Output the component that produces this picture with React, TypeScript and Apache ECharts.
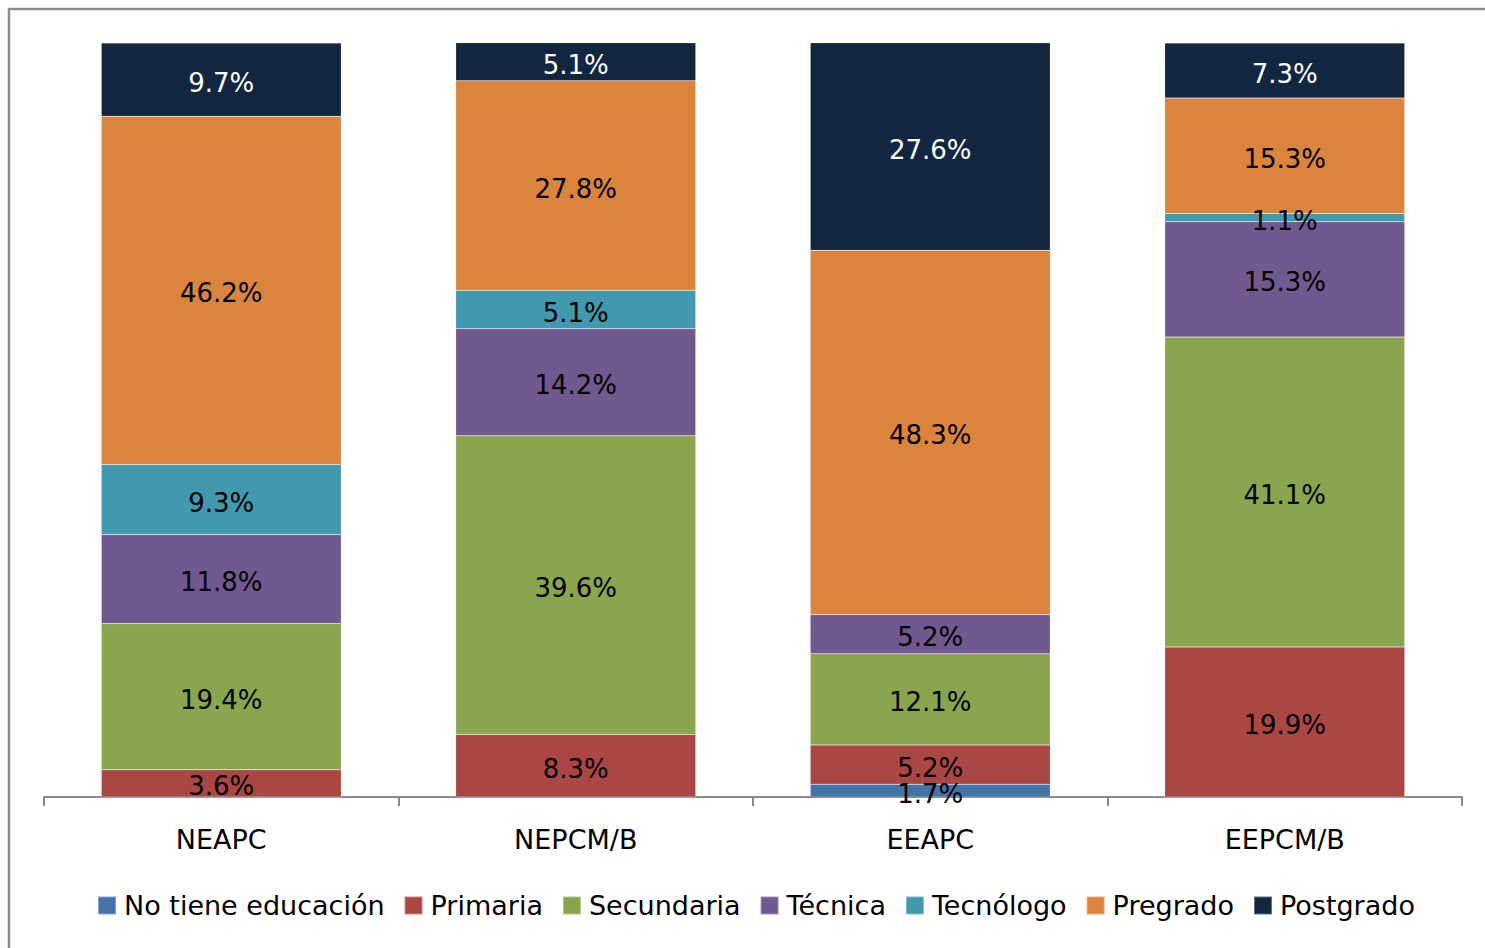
import React, { useEffect, useRef } from "react";
import * as echarts from "echarts";

const categories = ["NEAPC", "NEPCM/B", "EEAPC", "EEPCM/B"];
const seriesNames = ["No tiene educación", "Primaria", "Secundaria", "Técnica", "Tecnólogo", "Pregrado", "Postgrado"];
const noTiene = [0, 0, 1.7, 0];
const primaria = [3.6, 8.3, 5.2, 19.9];
const secundaria = [19.4, 39.6, 12.1, 41.1];
const tecnica = [11.8, 14.2, 5.2, 15.3];
const tecnologo = [9.3, 5.1, 0, 1.1];
const pregrado = [46.2, 27.8, 48.3, 15.3];
const postgrado = [9.7, 5.1, 27.6, 7.3];
const colors = ["#4572A7", "#AA4643", "#89A54E", "#71588F", "#4198AF", "#DB843D", "#12263F"];

const FONT = "DejaVu Sans";

export default function App() {
  const ref = useRef<HTMLDivElement>(null);
  useEffect(() => {
    if (!ref.current) return;
    const chart = echarts.init(ref.current, null, { renderer: "svg" });
    const allData = [noTiene, primaria, secundaria, tecnica, tecnologo, pregrado, postgrado];
    chart.setOption({
      animation: false,
      color: colors,
      grid: { left: 44, right: 23, top: 43, bottom: 151, containLabel: false },
      legend: {
        bottom: 24,
        left: 92,
        itemWidth: 18,
        itemHeight: 18,
        itemGap: 19,
        icon: "rect",
        textStyle: { fontFamily: FONT, fontSize: 27, color: "#000", padding: [0, 0, 0, 3] },
        data: seriesNames,
      },
      xAxis: {
        type: "category",
        data: categories,
        axisLine: { lineStyle: { color: "#8a8a8a", width: 2 } },
        axisTick: { show: true, length: 9, lineStyle: { color: "#8a8a8a", width: 2 } },
        axisLabel: { fontFamily: FONT, fontSize: 27, color: "#000", margin: 29 },
      },
      yAxis: { type: "value", min: 0, max: 100, show: false, splitLine: { show: false } },
      graphic: [
        {
          type: "rect",
          shape: { x: 9, y: 9, width: 1600, height: 1100 },
          style: { fill: "none", stroke: "#8c8c8c", lineWidth: 2.5 },
          silent: true,
        },
      ],
      series: seriesNames.map((name, i) => ({
        name,
        type: "bar",
        stack: "total",
        barWidth: 240,
        data: allData[i],
        itemStyle: { borderColor: "rgba(255,255,255,0.35)", borderWidth: 0.5 },
        label: {
          show: true,
          position: "inside",
          offset: [0, 3],
          fontFamily: FONT,
          fontSize: 26,
          color: i === 6 ? "#fff" : "#000",
          formatter: (p: any) => (p.value > 0 ? p.value.toFixed(1) + "%" : ""),
        },
      })),
    });
    return () => chart.dispose();
  }, []);
  return (
    <div
      ref={ref}
      style={{ position: "fixed", left: 0, top: 0, width: 1485, height: 948, background: "#fff" }}
    />
  );
}
